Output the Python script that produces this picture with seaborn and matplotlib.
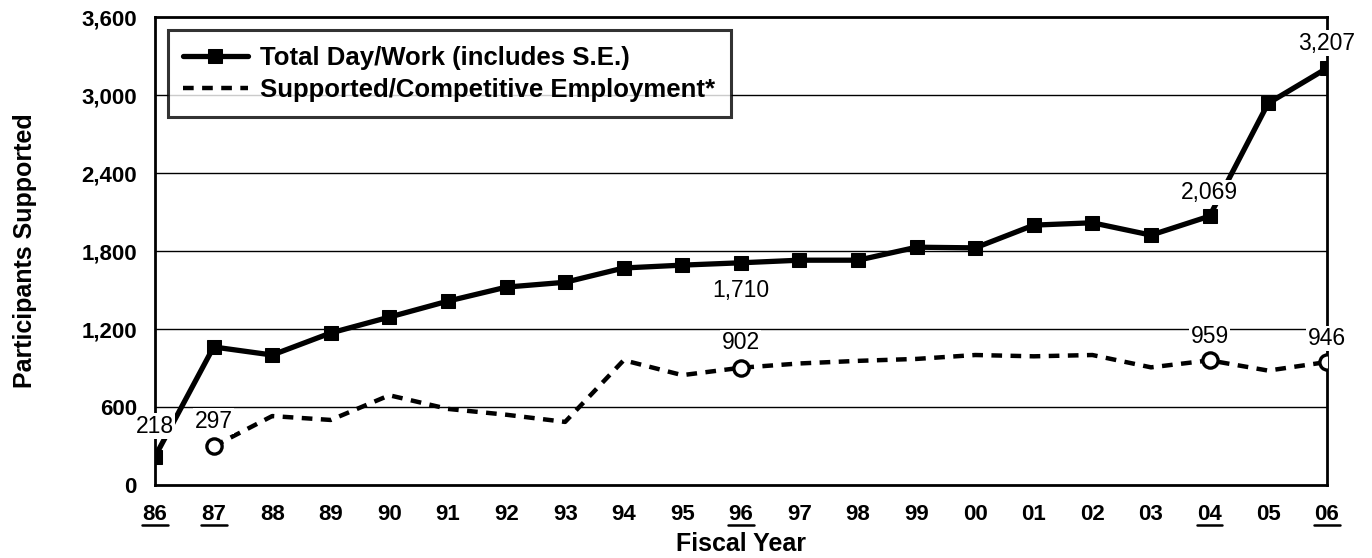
import numpy as np
import pandas as pd
import matplotlib
matplotlib.use('Agg')
import matplotlib.pyplot as plt
import seaborn as sns

sns.set_style('white')
plt.rcParams['font.family'] = ['Liberation Sans', 'DejaVu Sans']
plt.rcParams.update({'text.color': 'black', 'axes.labelcolor': 'black',
                     'xtick.color': 'black', 'ytick.color': 'black'})

# values
years = ['86', '87', '88', '89', '90', '91', '92', '93', '94', '95', '96',
         '97', '98', '99', '00', '01', '02', '03', '04', '05', '06']
total_day_work = [218, 1062, 1000, 1170, 1292, 1415, 1523, 1560, 1670, 1692, 1710,
                  1730, 1730, 1830, 1825, 2000, 2018, 1923, 2069, 2938, 3207]
supported_emp = [np.nan, 297, 530, 500, 690, 585, 540, 485, 960, 845, 902,
                 935, 955, 970, 1000, 990, 1000, 905, 959, 880, 946]
underlined = ['86', '87', '96', '04', '06']
total_labels = {'86': '218', '96': '1,710', '04': '2,069', '06': '3,207'}
supp_labels = {'87': '297', '96': '902', '04': '959', '06': '946'}
yticks = [0, 600, 1200, 1800, 2400, 3000, 3600]

df = pd.DataFrame({'pos': np.arange(len(years)), 'year': years,
                   'total': total_day_work, 'supp': supported_emp})
circles = df[df['year'].isin(supp_labels.keys())]

fig = plt.figure(figsize=(13.72, 5.58), dpi=100)
ax = fig.add_axes([0.113, 0.131, 0.854, 0.838])

for y in yticks[1:-1]:
    ax.axhline(y, color='black', lw=1.0, zorder=0)

sns.lineplot(data=df, x='pos', y='total', ax=ax, color='black', lw=3.8,
             marker='s', markersize=10.5, markeredgecolor='black',
             label='Total Day/Work (includes S.E.)', zorder=3)
sns.lineplot(data=df.dropna(), x='pos', y='supp', ax=ax, color='black', lw=3.2,
             dashes=(2.4, 1.9), label='Supported/Competitive Employment*', zorder=3)
sns.scatterplot(data=circles, x='pos', y='supp', ax=ax, marker='o', s=120,
                facecolor='white', edgecolor='black', linewidth=2.4,
                legend=False, zorder=4)

ax.set_xlim(0, len(years) - 1)
ax.set_ylim(0, 3600)
ax.set_yticks(yticks)
ax.set_yticklabels([f'{v:,}' for v in yticks], fontsize=16, fontweight='bold')
ax.set_xticks(df['pos'])
ax.set_xticklabels(years, fontsize=16, fontweight='bold')
ax.tick_params(axis='x', direction='in', length=15, width=1.6, pad=13.5)
ax.tick_params(axis='y', length=0, pad=13)

for s in ax.spines.values():
    s.set_color('black')
    s.set_linewidth(2.0)

# underline selected year labels
trans = ax.get_xaxis_transform()
for yr in underlined:
    i = years.index(yr)
    ax.plot([i - 0.22, i + 0.22], [-0.085, -0.085], color='black', lw=1.8,
            transform=trans, clip_on=False)

box = dict(facecolor='white', edgecolor='none', pad=1)
offsets = {'86': (0, 22), '96': (0, -20), '04': (0, 17), '06': (0, 18)}
for yr, txt in total_labels.items():
    i = years.index(yr)
    ax.annotate(txt, (i, total_day_work[i]), xytext=offsets[yr], textcoords='offset points',
                ha='center', va='center', fontsize=16.5, bbox=box, zorder=5)
offsets = {'87': (0, 18), '96': (0, 18), '04': (0, 17), '06': (0, 17)}
for yr, txt in supp_labels.items():
    i = years.index(yr)
    ax.annotate(txt, (i, supported_emp[i]), xytext=offsets[yr], textcoords='offset points',
                ha='center', va='center', fontsize=16.5, bbox=box, zorder=5)

ax.set_xlabel('Fiscal Year', fontsize=18, fontweight='bold', labelpad=5)
ax.set_ylabel('Participants Supported', fontsize=18, fontweight='bold', labelpad=32)

leg = ax.legend(loc='upper left', bbox_to_anchor=(0.011, 0.972), borderaxespad=0,
                fontsize=18.5, frameon=True, fancybox=False, handlelength=2.5,
                borderpad=0.6, labelspacing=0.3, handletextpad=0.5)
leg.get_frame().set_edgecolor('black')
leg.get_frame().set_linewidth(2.2)
for t in leg.get_texts():
    t.set_fontweight('bold')

fig.savefig('out.png', dpi=100)
